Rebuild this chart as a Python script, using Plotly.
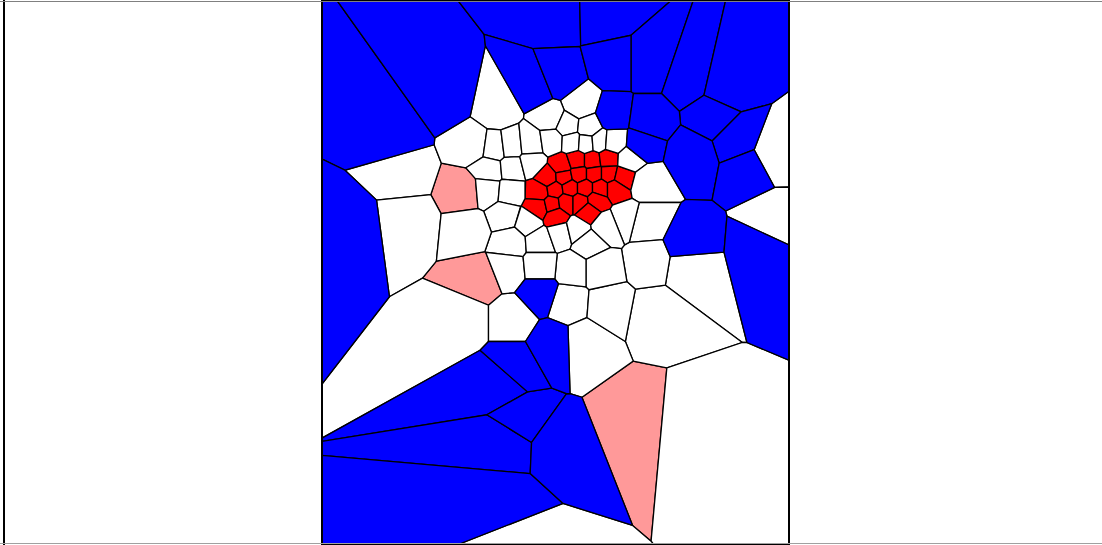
import plotly.graph_objects as go

# Map window in pixel-like units (y grows downward)
X0, X1, Y0, Y1 = 322, 789, 0, 545

# Site locations, grouped by class
red_sites = [
    (562, 166), (577, 161), (592, 161), (608, 159),
    (548, 178), (564, 177), (579, 174), (594, 174), (609, 174), (622, 177),
    (540, 192), (555, 190), (570, 188), (585, 188), (600, 188), (615, 188),
    (539, 207), (552, 204), (566, 202), (580, 202), (596, 200),
    (556, 216), (588, 211),
]
pink_sites = [(465, 192), (480, 279), (635, 413)]
white_sites = [
    (405, 172), (498, 111), (474, 145), (495, 148), (410, 222), (464, 318),
    (772, 154), (774, 221), (690, 267), (655, 314), (690, 418), (522, 546),
    (513, 318), (568, 302), (585, 342), (608, 305),
    (580, 106), (550, 118), (568, 126), (588, 128),
    (511, 146), (531, 144), (552, 141), (572, 142), (586, 143), (599, 142), (613, 143),
    (490, 170), (512, 168), (532, 163), (488, 190), (510, 192),
    (505, 215), (529, 222), (511, 242), (540, 240), (560, 233), (577, 229),
    (470, 228), (508, 268),
    (628, 160), (645, 183), (645, 222), (648, 260), (625, 217), (605, 225),
    (588, 243), (600, 268), (572, 268), (540, 265),
]
blue_sites = [
    (395, 137), (447, 100), (350, 230), (557, 15), (603, 14), (648, 66),
    (535, 90), (560, 80), (614, 66), (612, 116), (689, 80), (724, 88),
    (712, 115), (738, 141), (648, 121), (640, 145), (691, 156), (748, 167),
    (688, 243), (761, 249), (540, 293), (499, 381), (509, 443), (504, 500),
    (522, 422), (554, 445), (513, 365), (552, 343),
]

class_colors = {
    "red": "#ff0000",
    "pink": "#ff9999",
    "white": "#ffffff",
    "blue": "#0000ff",
}

sites = []
classes = []
for name, group in (("red", red_sites), ("pink", pink_sites),
                    ("white", white_sites), ("blue", blue_sites)):
    for s in group:
        sites.append(s)
        classes.append(name)


def clip(poly, a, b, c):
    """Keep the part of poly where a*x + b*y <= c."""
    out = []
    n = len(poly)
    for i in range(n):
        p = poly[i]
        q = poly[(i + 1) % n]
        fp = a * p[0] + b * p[1] - c
        fq = a * q[0] + b * q[1] - c
        if fp <= 0:
            out.append(p)
        if (fp < 0 < fq) or (fq < 0 < fp):
            t = fp / (fp - fq)
            out.append((p[0] + t * (q[0] - p[0]), p[1] + t * (q[1] - p[1])))
    return out


def voronoi_cell(i):
    px, py = sites[i]
    poly = [(X0, Y0), (X1, Y0), (X1, Y1), (X0, Y1)]
    for j, (qx, qy) in enumerate(sites):
        if j == i:
            continue
        a, b = qx - px, qy - py
        c = (qx * qx + qy * qy - px * px - py * py) / 2.0
        poly = clip(poly, a, b, c)
        if not poly:
            break
    return poly


fig = go.Figure()
for i, cls in enumerate(classes):
    poly = voronoi_cell(i)
    if len(poly) < 3:
        continue
    xs = [p[0] for p in poly] + [poly[0][0]]
    ys = [p[1] for p in poly] + [poly[0][1]]
    fig.add_trace(go.Scatter(
        x=xs, y=ys, mode="lines", fill="toself",
        fillcolor=class_colors[cls],
        line=dict(color="#000000", width=1.3),
        hoverinfo="skip", showlegend=False,
    ))

W, H = 1102, 545
fig.update_layout(
    width=W, height=H,
    margin=dict(l=0, r=0, t=0, b=0),
    paper_bgcolor="#ffffff", plot_bgcolor="#ffffff",
    xaxis=dict(range=[X0, X1], domain=[X0 / W, X1 / W], visible=False,
               fixedrange=True),
    yaxis=dict(range=[Y1, Y0], domain=[0, 1], visible=False, fixedrange=True),
    shapes=[
        # frame of the map window
        dict(type="rect", xref="paper", yref="paper",
             x0=X0 / W, x1=X1 / W, y0=0, y1=1,
             line=dict(color="#000000", width=2)),
        dict(type="line", xref="paper", yref="paper",
             x0=X0 / W, x1=X1 / W, y0=1, y1=1,
             line=dict(color="#000000", width=4)),
        # outer page frame
        dict(type="line", xref="paper", yref="paper",
             x0=4 / W, x1=4 / W, y0=0, y1=1,
             line=dict(color="#000000", width=2)),
        dict(type="line", xref="paper", yref="paper",
             x0=0, x1=1, y0=1 - 1.5 / H, y1=1 - 1.5 / H,
             line=dict(color="#808080", width=1)),
        dict(type="line", xref="paper", yref="paper",
             x0=0, x1=1, y0=1.5 / H, y1=1.5 / H,
             line=dict(color="#a0a0a0", width=1)),
    ],
)

fig.write_html("out.html", config={"displayModeBar": False})
